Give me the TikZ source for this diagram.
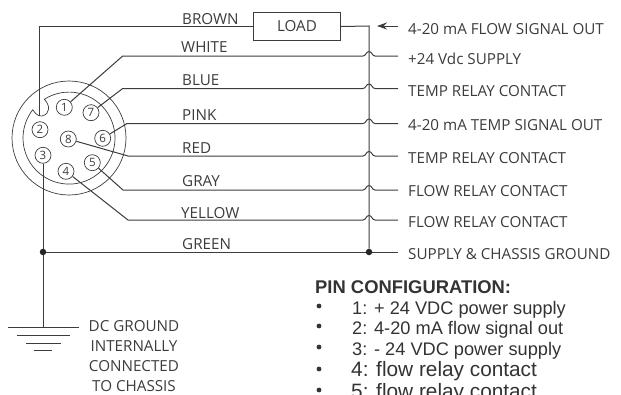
\documentclass[tikz,border=0pt]{standalone}
\usepackage{fontspec}
\usetikzlibrary{arrows.meta}
\setmainfont{Open Sans}
\newfontfamily\pinfont{Liberation Sans}
\newcommand{\wirehop}{.. controls +(3,0) and +(-3,0) .. ++(6,-4.5) .. controls +(3,0) and +(-3,0) .. ++(6,4.5)}
\definecolor{wirecolor}{HTML}{3C3C3C}
\tikzset{
    wire/.style={draw=wirecolor,line width=1pt},
    pinnode/.style={circle,draw=wirecolor,line width=.7pt,minimum size=16pt,inner sep=0pt,font=\fontsize{11.5}{11.5}\selectfont,text=wirecolor},
    wirelabel/.style={anchor=base west,inner sep=0pt,font=\fontsize{15.2}{15}\selectfont,text=wirecolor},
    dotnode/.style={circle,fill=black!85,minimum size=6.5pt,inner sep=0pt},
    pinlist/.style={anchor=base west,inner sep=0pt,text=black!80},
}
\begin{document}
\begin{tikzpicture}[x=1pt,y=-1pt]
    \useasboundingbox (0,0) rectangle (621,394);

    % connector shell
    \coordinate (conn) at (69,138);
    \draw[wire,line width=.7pt] (conn) circle[radius=57pt];
    \draw[wire,line width=.7pt] (44.3,99.3) arc[start angle=122.5,delta angle=-340.5,radius=46pt]
        .. controls (35,113) and (38,116.5) .. (41.7,116)
        .. controls (51,114) and (50,105) .. (44.3,99.3);

    % pins
    \foreach \n/\px/\py in {1/64.3/107.3,2/40/129.7,3/43/155.3,4/66/171.3,5/92.3/162.7,6/102.7/138.3,7/91/112.7,8/68.3/139}
        \node[pinnode] (pin\n) at (\px,\py) {\n};

    % load and bus
    \node[draw=wirecolor,line width=.8pt,minimum width=87pt,minimum height=28pt,inner sep=0pt,font=\fontsize{15.2}{15}\selectfont,text=wirecolor] (load) at (297,26.5) {LOAD};
    \coordinate (notch) at (39.5,116);
    \coordinate (bustop) at (369,26);
    \coordinate (arrowtail) at (398,26);
    \coordinate (arrowhead) at (377,26);
    \node[dotnode] (busdot) at (369,252) {};
    \node[dotnode] (gnddot) at (43,252) {};
    \coordinate (greenend) at (398,252);
    \draw[wire] (notch) |- (load.west);
    \draw[wire] (load.east) -- (bustop) -- (busdot);
    \draw[wire,-{Stealth[length=10pt,width=7pt]}] (arrowtail) -- (arrowhead);
    \draw[wire] (gnddot) -- (busdot) -- (greenend);

    % signal wires with a hop over the bus
    \foreach \n/\kneex/\wirey in {1/122.7/56,7/122.7/88.5,6/127/123.5,8/128/156,5/123/190,4/128/220}
        \draw[wire] (pin\n) -- (\kneex,\wirey) -- (363,\wirey) \wirehop -- (398,\wirey);

    % ground
    \coordinate (gndtop) at (43,327.5);
    \draw[wire] (pin3) -- (gnddot) -- (gndtop);
    \draw[wire] (8,327.5) -- (79,327.5);
    \draw[wire] (17,335) -- (70,335);
    \draw[wire] (26,343) -- (61,343);
    \draw[wire] (34,350.5) -- (52,350.5);
    \foreach \ty/\gtext in {331/DC GROUND,351/INTERNALLY,371.5/CONNECTED,391.5/TO CHASSIS}
        \node[wirelabel,anchor=base] at (134,\ty) {\gtext};

    % wire colours
    \foreach \lx/\ly/\ltext in {182/24/BROWN,181/52/WHITE,182/85/BLUE,182/120/PINK,182/153.5/RED,182/186/GRAY,181/218/YELLOW,182/249/GREEN}
        \node[wirelabel] at (\lx,\ly) {\ltext};

    % signal names
    \foreach \ly/\ltext in {34/4-20 mA FLOW SIGNAL OUT,64/+24 Vdc SUPPLY,96/TEMP RELAY CONTACT,130/4-20 mA TEMP SIGNAL OUT,163/TEMP RELAY CONTACT,196/FLOW RELAY CONTACT,227/FLOW RELAY CONTACT,259/SUPPLY \& CHASSIS GROUND}
        \node[wirelabel] at (408,\ly) {\ltext};

    % pin configuration
    \node[pinlist,font=\pinfont\bfseries\fontsize{18.4}{18}\selectfont] at (315,293) {PIN CONFIGURATION:};
    \foreach \ly/\ltext in {314/1: + 24 VDC power supply,334/2: 4-20 mA flow signal out,355/3: - 24 VDC power supply}
        \node[pinlist,font=\pinfont\fontsize{18.2}{18}\selectfont] at (352,\ly) {\ltext};
    \foreach \ly/\ltext in {376/4: flow relay contact,398/5: flow relay contact}
        \node[pinlist,font=\pinfont\fontsize{20.8}{20}\selectfont] at (351,\ly) {\ltext};
    \foreach \ly in {306,326,347,369,390}
        \fill[black!80] (319,\ly) circle[radius=2.4pt];
\end{tikzpicture}
\end{document}
